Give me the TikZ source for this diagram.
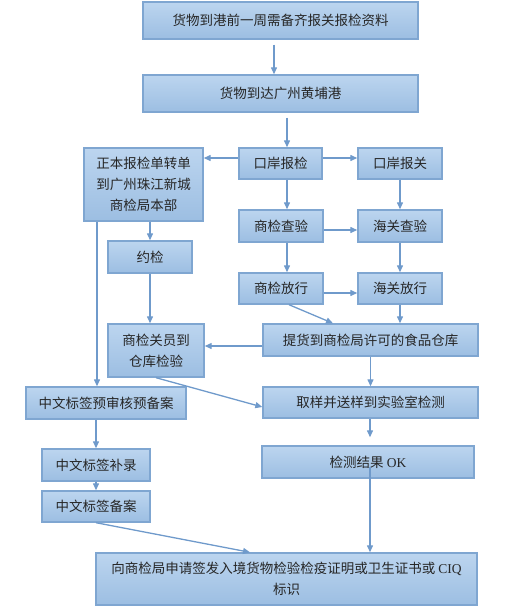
\documentclass[tikz,border=0pt]{standalone}
\usepackage{fontspec}
\setmainfont{Liberation Serif}
\newfontfamily\cjk{Noto Sans CJK SC}
\usepackage{tikz}
\usetikzlibrary{positioning,arrows.meta,calc}
\definecolor{boxtop}{HTML}{BCD5EF}
\definecolor{boxbot}{HTML}{9CBEE2}
\definecolor{boxline}{HTML}{7FA6D1}
\definecolor{arrline}{HTML}{6F9ACB}

\begin{document}
\begin{tikzpicture}[
            x=1pt, y=-1pt,
            box/.style={
                draw=boxline, line width=1.4pt, top color=boxtop, bottom color=boxbot, minimum height=32pt, inner sep=2pt, align=center, text=black!85, font=\cjk\fontsize{13.5}{21}\selectfont
            },
            arr/.style={
                draw=arrline, line width=1.3pt, -{Triangle[length=7pt,width=6pt]}
            }
        ]
            \useasboundingbox (0,0) rectangle (527,616);

            % --- PORT ---
            \node[box, minimum width=275pt, minimum height=37pt] (prep) at (280.5,20.5) {货物到港前一周需备齐报关报检资料};
            \node[box, minimum width=275pt, minimum height=37pt] (port) at (280.5,93.5) {货物到达广州黄埔港};
            \node[box, minimum width=83pt, minimum height=31pt] (kbj) at (280.5,163.5) {口岸报检};
            \node[box, minimum width=84pt, minimum height=31pt] (kbg) at (400,163.5) {口岸报关};
            \node[box, minimum width=119pt, minimum height=73pt] (zb) at (143.5,184.5) {正本报检单转单\\到广州珠江新城\\商检局本部};
            \node[box, minimum width=84pt] (sjcy) at (281,226) {商检查验};
            \node[box, minimum width=84pt] (hgcy) at (400,226) {海关查验};
            \node[box, minimum width=84pt] (yj) at (150,257) {约检};
            \node[box, minimum width=84pt, minimum height=31pt] (sjfx) at (281,288.5) {商检放行};
            \node[box, minimum width=84pt, minimum height=31pt] (hgfx) at (400,288.5) {海关放行};

            % --- WAREHOUSE ---
            \node[box, minimum width=215pt] (th) at (370.5,340) {提货到商检局许可的食品仓库};
            \node[box, minimum width=96pt, minimum height=53pt] (gy) at (156,350.5) {商检关员到\\仓库检验};
            \node[box, minimum width=215pt, minimum height=31pt] (qy) at (370.5,402.5) {取样并送样到实验室检测};
            \node[box, minimum width=212pt] (ok) at (368,462) {检测结果 {\rmfamily OK}};

            % --- LABELS ---
            \node[box, minimum width=160pt] (ys) at (106,403) {中文标签预审核预备案};
            \node[box, minimum width=108pt] (bl) at (96,465) {中文标签补录};
            \node[box, minimum width=108pt, minimum height=31pt] (ba) at (96,506.5) {中文标签备案};
            \node[box, minimum width=381pt, minimum height=52pt] (sq) at (286.5,579) {向商检局申请签发入境货物检验检疫证明或卫生证书或 {\rmfamily CIQ}\\标识};

            % MŨI TÊN
            \draw[arr, shorten <=5pt] ([xshift=-6.5]prep.south) -- ([xshift=-6.5]port.north);
            \draw[arr, shorten <=5pt] ([xshift=6.5]port.south) -- ([xshift=6.5]kbj.north);
            \draw[arr] ([yshift=5.5]kbj.east) -- ([yshift=5.5]kbj.east -| kbg.west);
            \draw[arr] ([yshift=5.5]kbj.west) -- ([yshift=5.5]kbj.west -| zb.east);
            \draw[arr] ([xshift=6.5]kbj.south) -- ([xshift=6.5]kbj.south |- sjcy.north);
            \draw[arr] (kbg) -- (hgcy);
            \draw[arr] ([yshift=-4]sjcy.east) -- ([yshift=-4]sjcy.east -| hgcy.west);
            \draw[arr] ([xshift=6]sjcy.south) -- ([xshift=6]sjcy.south |- sjfx.north);
            \draw[arr] (hgcy) -- (hgfx);
            \draw[arr] ([yshift=-4.5]sjfx.east) -- ([yshift=-4.5]sjfx.east -| hgfx.west);
            \draw[arr] ([xshift=8]sjfx.south) -- ([xshift=-37.5]th.north);
            \draw[arr] (hgfx.south) -- (hgfx.south |- th.north);
            \draw[arr] ([yshift=-6]th.west) -- ([yshift=-6]th.west -| gy.east);
            \draw[arr] (yj.north |- zb.south) -- (yj.north);
            \draw[arr] ([xshift=-46.5]zb.south) -- ([xshift=-46.5]zb.south |- ys.north);
            \draw[arr] (yj.south) -- (yj.south |- gy.north);
            \draw[arr] (gy.south) -- ([yshift=-4.5]qy.west);
            \draw[arr] (th) -- (qy);
            \draw[arr] (bl.north |- ys.south) -- (bl.north);
            \draw[arr] (bl) -- (ba);
            \draw[arr, shorten >=8pt] ([xshift=2]ok.north |- qy.south) -- ([xshift=2]ok.north);
            \draw[arr, shorten <=5pt] ([xshift=2]ok.center) -- ([xshift=2]ok.center |- sq.north);
            \draw[arr] (ba.south) -- ([xshift=-36.5]sq.north);

        \end{tikzpicture}
\end{document}
